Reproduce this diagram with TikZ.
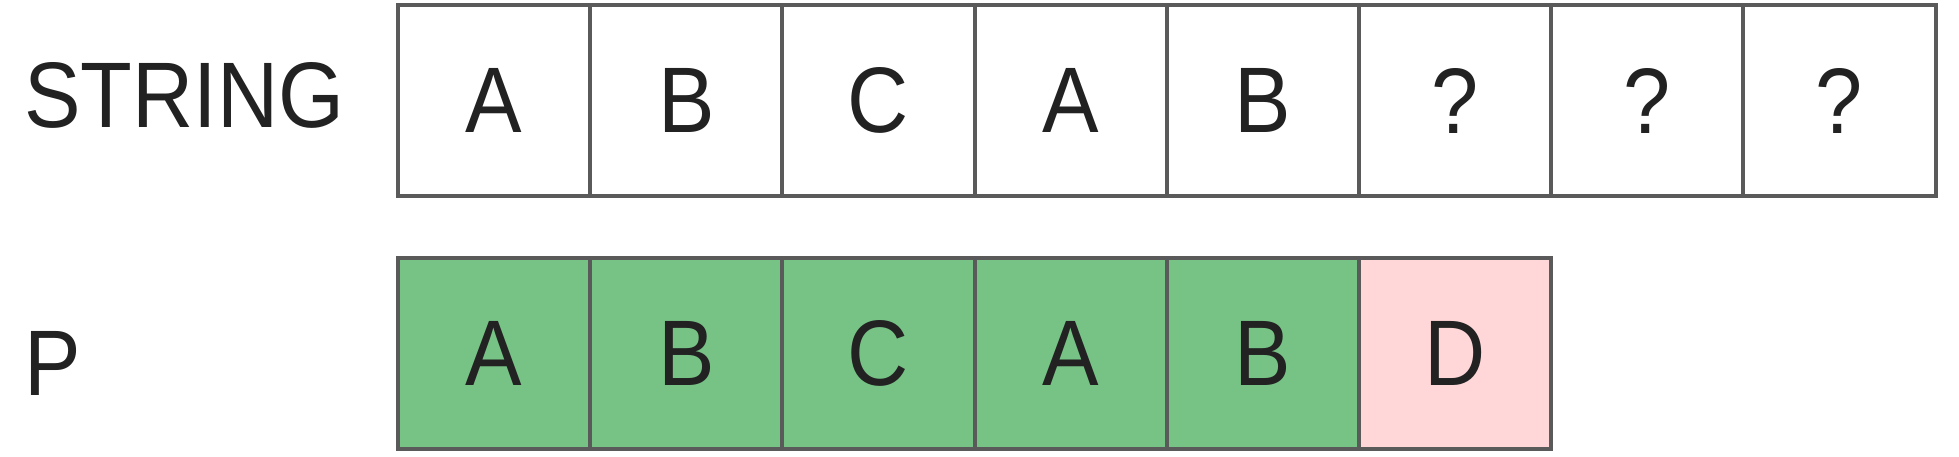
\documentclass[tikz,border=0pt]{standalone}
\usepackage{fontspec}
\setmainfont{Liberation Sans}
\usepackage{tikz}

\definecolor{edgegray}{HTML}{5A5A5A}
\definecolor{textdark}{HTML}{222222}
\definecolor{matchgreen}{HTML}{77C386}
\definecolor{failpink}{HTML}{FFD7D8}

% slightly narrower letters, as in the drawing
\newcommand{\narrowtxt}[1]{\scalebox{0.91}[1]{#1}}

\begin{document}
\begin{tikzpicture}[x=0.02cm,y=-0.02cm,
    cell/.style={draw=edgegray, line width=2.3pt, outer sep=0pt, inner sep=0pt,
        minimum width=3.844cm, minimum height=3.82cm, text=textdark,
        font=\fontsize{53}{60}\selectfont},
    lbl/.style={inner sep=0pt, text=textdark, font=\fontsize{53}{60}\selectfont}]
            \useasboundingbox (0,0) rectangle (1959,456);

            % row labels
            \node[lbl, anchor=base west] (string) at (24,128) {\narrowtxt{STRING}};
            \node[lbl, anchor=base west] (p) at (24,395) {\narrowtxt{P}};

            % the text
            \foreach \ch [count=\i] in {A,B,C,A,B,?,?,?}
                \node[cell, fill=white] (s\i) at (301.9+192.2*\i,100.75) {\narrowtxt{\ch}};

            % the pattern
            \foreach \ch [count=\i] in {A,B,C,A,B}
                \node[cell, fill=matchgreen] (p\i) at (301.9+192.2*\i,353.5) {\narrowtxt{\ch}};
            \node[cell, fill=failpink] (p6) at (301.9+192.2*6,353.5) {\narrowtxt{D}};

        \end{tikzpicture}
\end{document}
